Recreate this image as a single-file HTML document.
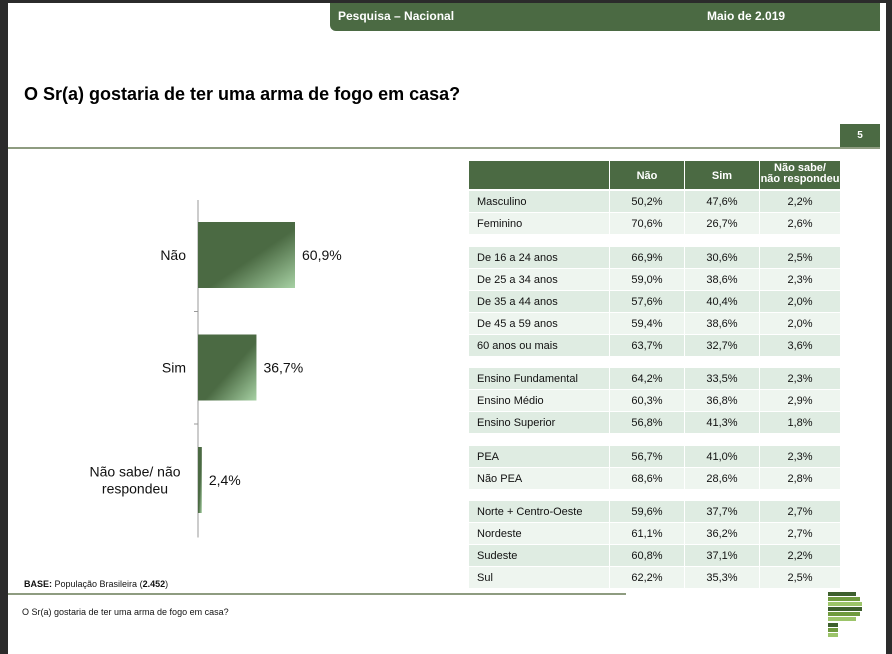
<!DOCTYPE html>
<html><head><meta charset="utf-8"><style>
body{margin:0;width:892px;height:654px;background:#2b2b2b;font-family:"Liberation Sans",sans-serif;overflow:hidden;position:relative}
.pg{position:absolute;left:8px;top:3px;width:878px;height:651px;background:#fff}
.a{position:absolute}
.cell{position:absolute;font-size:11px;color:#111;line-height:22px}
</style></head><body>
<div class="pg"></div>
<div class="a" style="left:330px;top:3px;width:550px;height:28px;background:#4b6a43;border-bottom-left-radius:6px"></div>
<div class="a" style="left:338px;top:9px;color:#fff;font-weight:bold;font-size:12px">Pesquisa – Nacional</div>
<div class="a" style="left:707px;top:9px;color:#fff;font-weight:bold;font-size:12px">Maio de 2.019</div>
<div class="a" style="left:24px;top:84px;font-weight:bold;font-size:18px;color:#000">O Sr(a) gostaria de ter uma arma de fogo em casa?</div>
<div class="a" style="left:840px;top:124px;width:40px;height:23px;background:#4b6a43;color:#fff;font-size:10px;font-weight:bold;text-align:center;line-height:23px">5</div>
<div class="a" style="left:8px;top:147px;width:872px;height:2px;background:#8e9c80"></div>
<div class="a" style="left:8px;top:593px;width:618px;height:2px;background:#8e9c80"></div>
<div class="a" style="left:24px;top:579px;font-size:9px;color:#111"><b>BASE:</b> População Brasileira (<b>2.452</b>)</div>
<div class="a" style="left:22px;top:607px;font-size:9px;color:#111">O Sr(a) gostaria de ter uma arma de fogo em casa?</div>
<svg class="a" style="left:826px;top:590px" width="40" height="52">
<rect x="2" y="2" width="28" height="4" fill="#3d5f2d"/><rect x="2" y="7" width="32" height="4" fill="#6f9a3e"/><rect x="2" y="12" width="34" height="4" fill="#9cc46a"/><rect x="2" y="17" width="34" height="4" fill="#3d5f2d"/><rect x="2" y="22" width="32" height="4" fill="#6f9a3e"/><rect x="2" y="27" width="28" height="4" fill="#9cc46a"/><rect x="2" y="33" width="10" height="4" fill="#3d5f2d"/><rect x="2" y="38" width="10" height="4" fill="#6f9a3e"/><rect x="2" y="43" width="10" height="4" fill="#9cc46a"/>
</svg>
<svg class="a" id="chart" style="left:0;top:0" width="460" height="560">
<defs><linearGradient id="g" x1="0" y1="0" x2="1" y2="1"><stop offset="0" stop-color="#4b6a43"/><stop offset="0.55" stop-color="#4b6a43"/><stop offset="1" stop-color="#a7d1a4"/></linearGradient></defs>
</svg>
<div id="tbl"></div>
<script>
const categories=["Não","Sim","Não sabe/ não\nrespondeu"];
const values=[60.9,36.7,2.4];
const valueLabels=["60,9%","36,7%","2,4%"];
const ns="http://www.w3.org/2000/svg";
const svg=document.getElementById('chart');
const x0=198,scale=97/60.9,bandTop=200,band=112.5,barH=66;
const xs=v=>x0+v*scale;
function mk(t,a){const e=document.createElementNS(ns,t);for(const k in a)e.setAttribute(k,a[k]);svg.appendChild(e);return e;}
const ax=mk('line',{x1:x0,y1:bandTop,x2:x0,y2:bandTop+band*3,stroke:'#999'});


for(let i=1;i<3;i++){const t=mk('line',{x1:x0-4,x2:x0,y1:bandTop+band*i-1,y2:bandTop+band*i-1,stroke:'#999'});

}
categories.forEach((c,i)=>{
 const y=bandTop+band*i+22;
 const r=mk('rect',{x:x0,y:y,width:Math.max(xs(values[i])-x0,3),height:barH,fill:'url(#g)'});
 
 
 const v=mk('text',{x:Math.max(xs(values[i]),x0+3)+7,y:y+barH/2+5,'font-size':14,fill:'#111'});v.textContent=valueLabels[i];
 
 
 const lines=c.split('\n');
 const multi=lines.length>1;
 lines.forEach((l,j)=>{const t=mk('text',{x:multi?135:186,y:y+barH/2+5+(j-(lines.length-1)/2)*17,'font-size':14,fill:'#111','text-anchor':multi?'middle':'end'});t.textContent=l;
 
 });
});
const rowLabels=["Masculino","Feminino",null,"De 16 a 24 anos","De 25 a 34 anos","De 35 a 44 anos","De 45 a 59 anos","60 anos ou mais",null,"Ensino Fundamental","Ensino Médio","Ensino Superior",null,"PEA","Não PEA",null,"Norte + Centro-Oeste","Nordeste","Sudeste","Sul"];
const naoVals=["50,2%","70,6%",null,"66,9%","59,0%","57,6%","59,4%","63,7%",null,"64,2%","60,3%","56,8%",null,"56,7%","68,6%",null,"59,6%","61,1%","60,8%","62,2%"];
const simVals=["47,6%","26,7%",null,"30,6%","38,6%","40,4%","38,6%","32,7%",null,"33,5%","36,8%","41,3%",null,"41,0%","28,6%",null,"37,7%","36,2%","37,1%","35,3%"];
const nsVals=["2,2%","2,6%",null,"2,5%","2,3%","2,0%","2,0%","3,6%",null,"2,3%","2,9%","1,8%",null,"2,3%","2,8%",null,"2,7%","2,7%","2,2%","2,5%"];
const tbl=document.getElementById('tbl');
const cols=[[469,140],[610,74],[685,74],[760,80]];
function cell(x,y,w,h,bg,txt,align,extra){const d=document.createElement('div');d.className='cell';d.style.cssText=`left:${x}px;top:${y}px;width:${w}px;height:${h}px;background:${bg};text-align:${align};${extra||''}`;d.innerHTML=txt;tbl.appendChild(d);return d;}
const hd=["","Não","Sim","Não sabe/<br>não respondeu"];
cols.forEach((c,i)=>{const d=cell(c[0],161,c[1],28,'#4b6a43',hd[i],'center','color:#fff;font-weight:bold;'+(i==3?'line-height:11px;padding-top:2px;height:26px':'line-height:30px'));

});
let y=191,k=0;
rowLabels.forEach((r,i)=>{
 if(r===null){y+=11.5;k=0;return;}
 const bg=k%2==0?'#dfece2':'#eef5ef';
 const vals=[r,naoVals[i],simVals[i],nsVals[i]];
 cols.forEach((c,j)=>{const d=cell(c[0],Math.round(y),c[1],21,bg,vals[j],j==0?'left':'center',j==0?'padding-left:8px;width:'+(c[1]-8)+'px':'');
 
 });
 y+=22;k++;
});
</script>
</body></html>
